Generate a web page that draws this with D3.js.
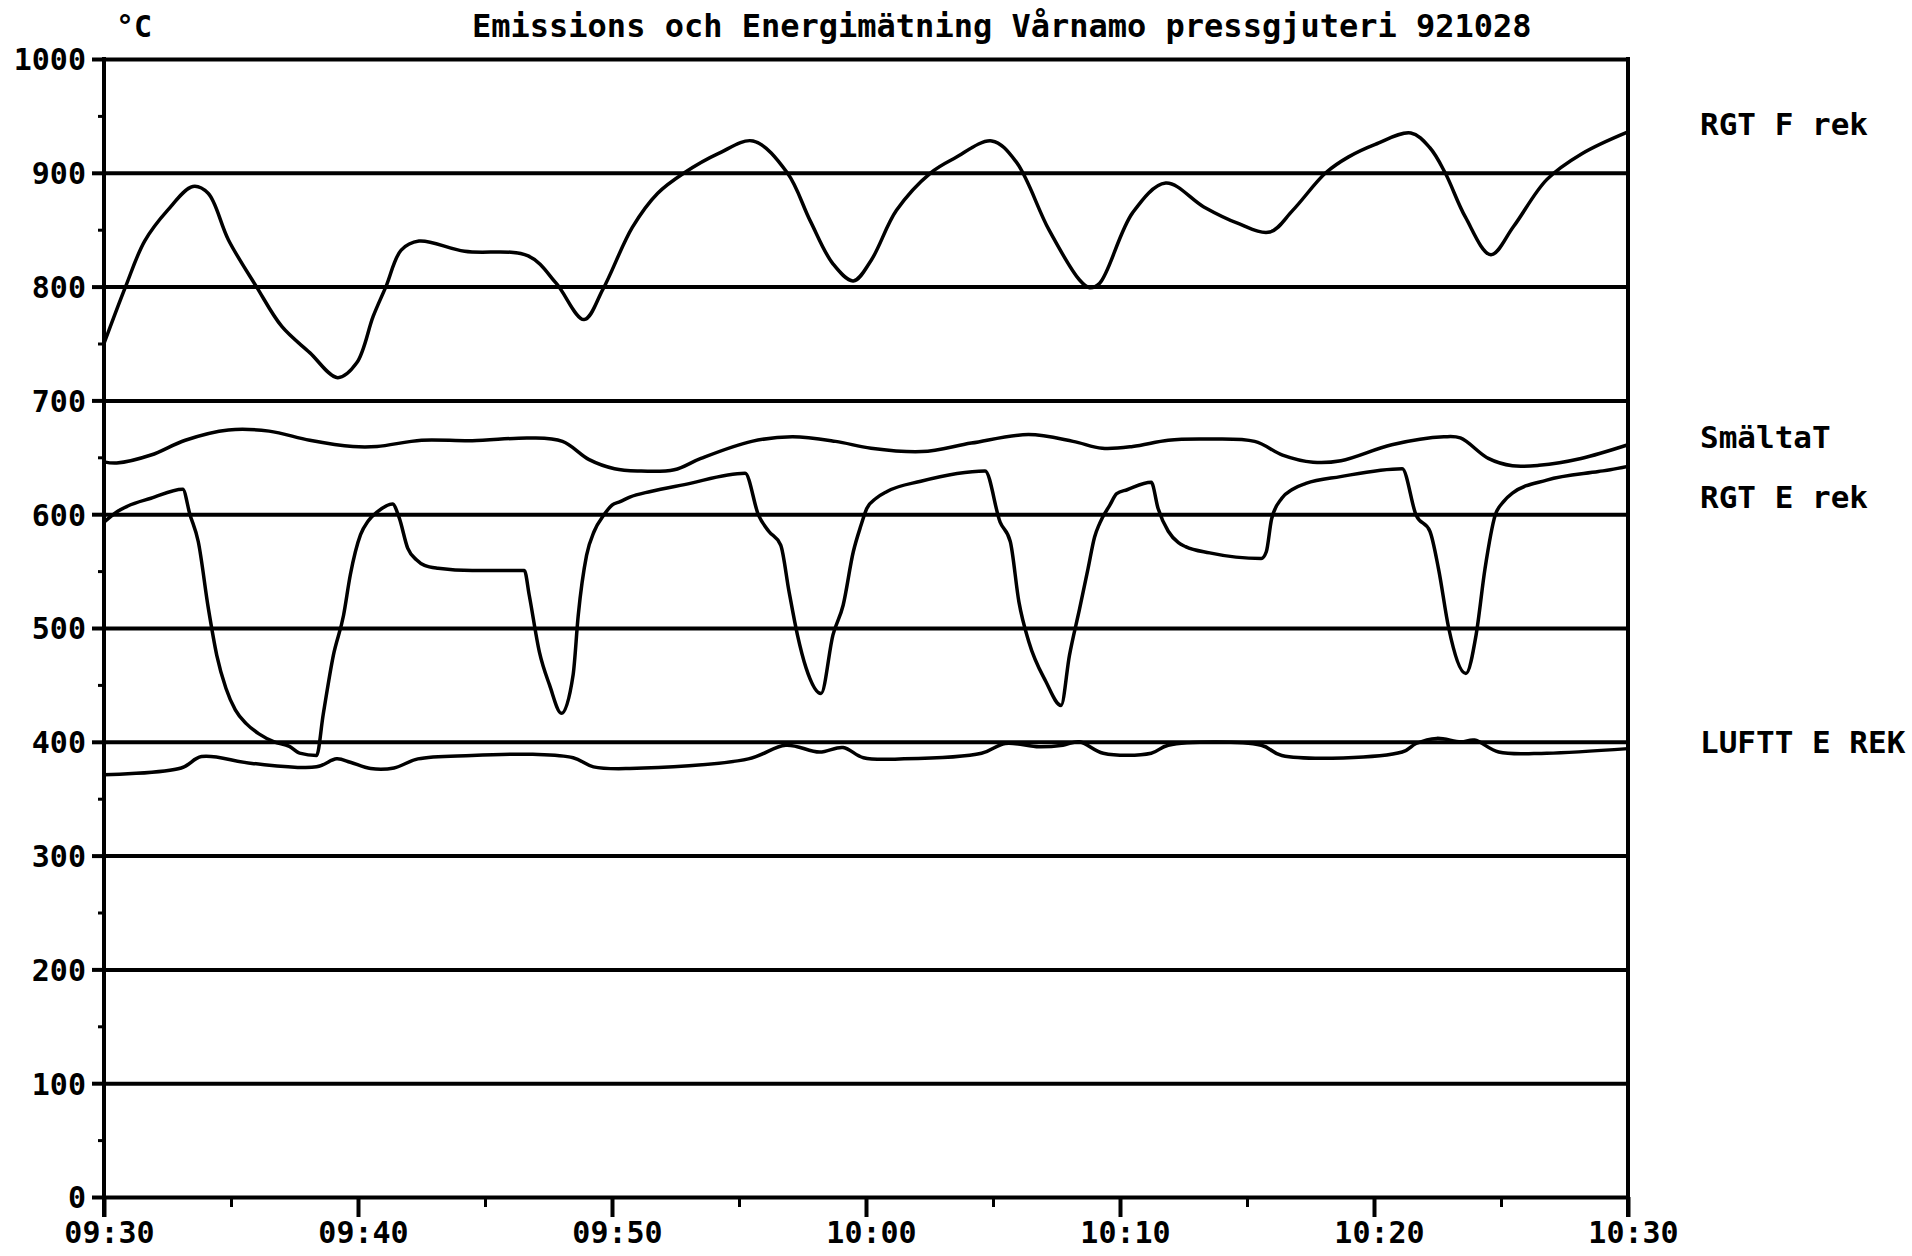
<!DOCTYPE html>
<html lang="sv">
<head>
<meta charset="UTF-8" />
<title>Emissions och Energimätning Vårnamo pressgjuteri 921028</title>
<script src="https://d3js.org/d3.v7.min.js"></script>
<style>
  body { margin: 0; background: #fff; }
  svg text { font-family: "DejaVu Sans Mono", "Liberation Mono", monospace; font-weight: bold; fill: #000; }
</style>
</head>
<body>
<script>
// minutes after 09:30 and degrees C
const rgtF_min = [0,0.85,1.6,2.5,3.5,4.1,4.9,6.0,7.0,8.1,9.2,9.95,10.6,11.1,11.7,12.4,14.2,16.7,17.8,18.9,19.65,20.8,21.8,22.85,24.2,25.55,26.9,27.8,28.7,29.5,30.2,31.2,32.55,33.5,34.95,35.9,37.2,38.4,38.8,39.2,40.5,41.8,43.3,44.6,45.9,46.8,48.1,49.0,50.05,51.45,52.2,52.8,53.6,54.6,55.5,56.8,58.2,60];
const rgtF_val = [750,800,840,867,888,882,841,800,765,742,720,733,774,800,832,840,831,827,803,771,798,852,882,900,917,928,900,858,820,805,823,867,900,913,928,910,850,806,799,803,865,891,870,856,848,867,900,914,925,935,922,900,861,828,853,894,917,936];

const smalta_min = [0,0.5,1.85,3.2,4.9,6.5,8.1,9.8,10.75,12.5,14.5,16.75,18.05,19.1,20.1,21.0,22.45,23.5,25.5,27.1,28.8,30.2,32.2,34.15,36.4,38.15,39.3,40.5,41.9,43.3,45.3,46.4,47.6,48.7,50.7,52.75,53.4,54.5,55.45,56.5,58.15,60];
const smalta_val = [646,645,652,665,674,673,665,659.5,659.5,665,664.5,667,664,648,640,638,639,649,664,668,664,658,655,662.5,670,664,658,659.5,665,666,664,652,645.7,647,661,668,667,649,642.5,643,649,661];

const rgtE_min = [0,0.5,0.92,1.85,3.1,3.38,3.71,4.11,4.44,4.8,5.17,5.6,6.1,6.7,7.3,7.7,8.37,8.63,9.03,9.43,9.7,10.1,10.4,10.76,11.36,11.62,11.96,12.3,12.62,13.15,14.5,16.55,16.74,17.14,17.54,18.01,18.47,18.67,19.0,19.3,19.67,20.0,20.32,20.7,21.52,22.85,25.24,25.77,26.17,26.64,26.97,27.3,27.64,28.23,28.7,29.1,29.5,29.8,30.03,30.4,30.83,32.16,34.69,35.28,35.68,36.02,36.41,37.08,37.68,38.01,38.41,38.74,39.0,39.2,39.6,39.87,40.28,41.23,41.5,41.9,42.3,42.58,43.53,45.56,45.76,45.97,46.37,46.8,47.32,48.68,51.11,51.66,52.2,52.54,52.94,53.62,54.02,54.37,54.77,55.1,55.45,56.8,58.84,59.3,60];
const rgtE_val = [593,602,607,614,622,600,576,517,476,447,428,416,407,400,396,390,388,424,476,511,547,582,594,602,609,597,570,560,555,552.5,550.5,550.5,529,479,450,425,459,511,564,585,599,608,611,615,620,626,636,599,585,573,532,494,465,442.5,494,520,567,590,605,614,620,629,638,593,576,523,488,453,432,476,517,552,580,592,608,618,621.5,628,605,585,575,571.5,566,561,567,596,614,622,627,633,640,599,585,552,500,460,494,552,599,611,618.5,630,637.5,639,642];

const luft_min = [0,3.04,3.84,5.83,8.37,9.16,9.7,10.5,11.42,12.36,14.48,16.88,18.47,19.27,20.7,25.37,26.84,28.17,29.1,29.9,31.5,34.55,35.48,36.81,37.75,38.4,39.34,41.23,41.9,45.56,46.37,51.11,51.66,52.47,53.42,53.96,54.91,56.8,60];
const luft_val = [371,377,387,381,378,385,382,376.5,377,385,388,389,386,378,376.5,385,397,391,395,386,385,390,398.5,395.6,397,400,390,390,397,397,388,391,398.5,403,400,401.5,391,390,394];

const seriesNames = ["RGT F rek", "SmältaT", "RGT E rek", "LUFTT E REK"];
const yMajor = d3.range(0, 1001, 100);
const yMinor = d3.range(50, 1000, 100);
const title = "Emissions och Energimätning Vårnamo pressgjuteri 921028";
const unit = "°C";

const W = 1912, H = 1256;
const plotLeft = 104, plotRight = 1628, plotTop = 59, plotBottom = 1197;

const t0 = new Date(1992, 9, 28, 9, 30);
const t1 = new Date(1992, 9, 28, 10, 30);
const toDate = m => new Date(t0.getTime() + m * 60000);

const x = d3.scaleTime().domain([t0, t1]).range([plotLeft, plotRight]);
const y = d3.scaleLinear().domain([0, 1000]).range([plotBottom, plotTop]);

const svg = d3.select("body").append("svg")
  .attr("width", W).attr("height", H);

// horizontal grid lines
svg.append("g")
  .attr("transform", `translate(${plotLeft},0)`)
  .call(d3.axisRight(y).tickValues(yMajor).tickSize(plotRight - plotLeft).tickFormat(""))
  .call(g => g.select(".domain").remove())
  .call(g => g.selectAll("line").attr("stroke", "#000").attr("stroke-width", 4));

// y axis, labelled ticks every 100, small ones at 50
svg.append("g")
  .attr("transform", `translate(${plotLeft},0)`)
  .call(d3.axisLeft(y).tickValues(yMinor).tickSize(6).tickFormat(""))
  .call(g => g.select(".domain").remove())
  .call(g => g.selectAll("line").attr("stroke", "#000").attr("stroke-width", 3));

svg.append("g")
  .attr("transform", `translate(${plotLeft},0)`)
  .call(d3.axisLeft(y).tickValues(yMajor).tickSize(12).tickPadding(6).tickSizeOuter(0)
    .tickFormat(d3.format("d")))
  .call(g => g.select(".domain").remove())
  .call(g => g.selectAll("line").attr("stroke", "#000").attr("stroke-width", 4))
  .call(g => g.selectAll("text").attr("font-size", 30).attr("dy", "0.36em"))
  .attr("font-family", null).attr("font-size", null);

// x axis ticks: every 5 min small, every 10 min long with labels
svg.append("g")
  .attr("transform", `translate(0,${plotBottom})`)
  .call(d3.axisBottom(x).ticks(d3.timeMinute.every(5)).tickSize(10).tickFormat(""))
  .call(g => g.select(".domain").remove())
  .call(g => g.selectAll("line").attr("stroke", "#000").attr("stroke-width", 3));

svg.append("g")
  .attr("transform", `translate(0,${plotBottom})`)
  .call(d3.axisBottom(x).ticks(d3.timeMinute.every(10)).tickSize(20).tickPadding(4)
    .tickFormat(d3.timeFormat("%H:%M")))
  .call(g => g.select(".domain").remove())
  .call(g => g.selectAll("line").attr("stroke", "#000").attr("stroke-width", 4))
  .call(g => g.selectAll("text").attr("font-size", 30).attr("dx", 5).attr("dy", "0.74em"))
  .attr("font-family", null).attr("font-size", null);

// frame: left and right verticals
svg.append("g").selectAll("line")
  .data([t0, t1]).join("line")
  .attr("x1", d => x(d)).attr("x2", d => x(d))
  .attr("y1", y(1000) - 2).attr("y2", plotBottom + 20)
  .attr("stroke", "#000").attr("stroke-width", 4);

// curves
const smooth = d3.line().x(d => x(d[0])).y(d => y(d[1])).curve(d3.curveCatmullRom.alpha(0.5));
const sharp = d3.line().x(d => x(d[0])).y(d => y(d[1])).curve(d3.curveMonotoneX);
const zipped = (mins, vals) => mins.map((m, i) => [toDate(m), vals[i]]);

const curves = [
  { pts: zipped(rgtF_min, rgtF_val), gen: smooth },
  { pts: zipped(smalta_min, smalta_val), gen: smooth },
  { pts: zipped(rgtE_min, rgtE_val), gen: sharp },
  { pts: zipped(luft_min, luft_val), gen: smooth }
];

svg.append("g").selectAll("path")
  .data(curves).join("path")
  .attr("d", c => c.gen(c.pts))
  .attr("fill", "none")
  .attr("stroke", "#000")
  .attr("stroke-width", 3.5)
  .attr("stroke-linejoin", "round");

// series names to the right
svg.append("g").selectAll("text")
  .data(seriesNames).join("text")
  .attr("x", 1700)
  .attr("y", (d, i) => [135, 448, 508, 753][i])
  .attr("font-size", 31)
  .text(d => d);

// title and unit
svg.append("text")
  .attr("x", 472).attr("y", 37)
  .attr("font-size", 32)
  .text(title);

svg.append("text")
  .attr("x", 116).attr("y", 37)
  .attr("font-size", 30)
  .text(unit);
</script>
</body>
</html>
